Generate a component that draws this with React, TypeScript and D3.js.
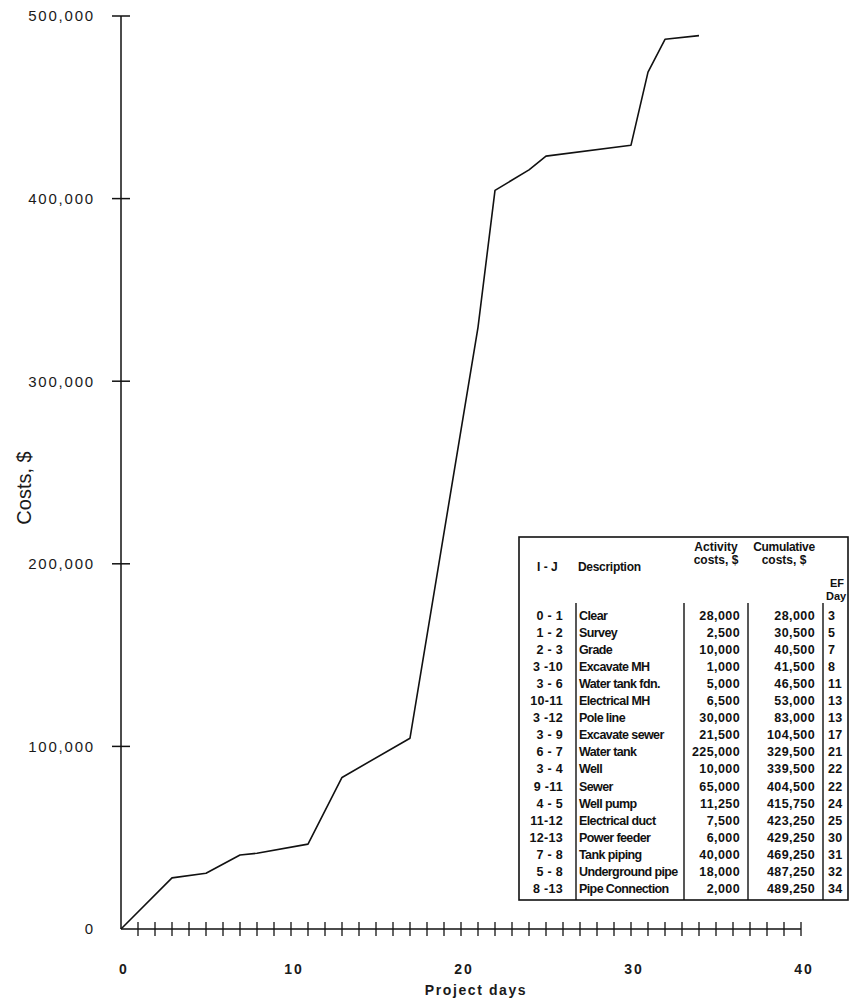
import React from "react";
import * as d3 from "d3";

const ijLabels = ["0 - 1","1 - 2","2 - 3","3 -10","3 - 6","10-11","3 -12","3 - 9","6 - 7","3 - 4","9 -11","4 - 5","11-12","12-13","7 - 8","5 - 8","8 -13"];
const descriptions = ["Clear","Survey","Grade","Excavate MH","Water tank fdn.","Electrical MH","Pole line","Excavate sewer","Water tank","Well","Sewer","Well pump","Electrical duct","Power feeder","Tank piping","Underground pipe","Pipe Connection"];
const activityCosts = [28000,2500,10000,1000,5000,6500,30000,21500,225000,10000,65000,11250,7500,6000,40000,18000,2000];
const cumulativeCosts = [28000,30500,40500,41500,46500,53000,83000,104500,329500,339500,404500,415750,423250,429250,469250,487250,489250];
const efDays = [3,5,7,8,11,13,13,17,21,22,22,24,25,30,31,32,34];
const yTicks = [0,100000,200000,300000,400000,500000];
const xLabelTicks = [0,10,20,30,40];

const fmt = d3.format(",");

// line points: last cumulative cost reached at each EF day, starting at origin
const linePoints: [number, number][] = [[0, 0]];
efDays.forEach((d, i) => {
  const last = linePoints[linePoints.length - 1];
  if (last[0] === d) last[1] = cumulativeCosts[i];
  else linePoints.push([d, cumulativeCosts[i]]);
});

export default function App() {
  const W = 851, H = 999;
  const x = d3.scaleLinear().domain([0, 40]).range([121, 801]);
  const y = d3.scaleLinear().domain([0, 500000]).range([929, 16]);
  const line = d3.line<[number, number]>().x(d => x(d[0])).y(d => y(d[1]));
  const ax0 = x(0), ay0 = y(0);

  // table geometry
  const tL = 519, tR = 848, tT = 537, tB = 900;
  const seps = [576, 684, 748, 823];
  const sepTop = 603;
  const rowY0 = 615, rowStep = 17.1;
  const tf = "'Liberation Sans', Arial, sans-serif";

  return (
    <svg width={W} height={H} style={{ position: "absolute", left: 0, top: 0, background: "#fff" }}>
      <rect x={0} y={0} width={W} height={H} fill="#fff" />
      {/* axes */}
      <line x1={ax0} y1={y(500000)} x2={ax0} y2={ay0} stroke="#111" strokeWidth={1.5} />
      <line x1={ax0} y1={ay0} x2={x(40)} y2={ay0} stroke="#111" strokeWidth={1.5} />
      {yTicks.map(t => (
        <g key={"yt" + t}>
          {t > 0 && <line x1={ax0 - 9} x2={ax0 + 9} y1={y(t)} y2={y(t)} stroke="#111" strokeWidth={1.5} />}
          <text x={ax0 - 26} y={y(t)} dy="0.36em" textAnchor="end" fontFamily={tf} fontSize={15} letterSpacing={1.8} fill="#1a1a1a">{fmt(t)}</text>
        </g>
      ))}
      {x.ticks(40).filter(t => t > 0).map(t => (
        <line key={"xt" + t} x1={x(t)} x2={x(t)} y1={ay0 - 7} y2={ay0 + 7} stroke="#111" strokeWidth={1.3} />
      ))}
      {xLabelTicks.map(t => (
        <text key={"xl" + t} x={x(t) + 3} y={969} dy="0.36em" textAnchor="middle" fontFamily={tf} fontWeight="bold" fontSize={14} letterSpacing={2} fill="#1a1a1a">{t}</text>
      ))}
      <text x={476} y={990} dy="0.36em" textAnchor="middle" fontFamily={tf} fontWeight="bold" fontSize={14} letterSpacing={1.6} fill="#1a1a1a">Project days</text>
      <text transform={`translate(24,488) rotate(-90)`} textAnchor="middle" dy="0.36em" fontFamily={tf} fontSize={20} fill="#1a1a1a">Costs, $</text>

      {/* cumulative cost curve */}
      <path d={line(linePoints) || ""} fill="none" stroke="#111" strokeWidth={1.6} strokeLinejoin="round" />

      {/* table */}
      <rect x={tL} y={tT} width={tR - tL} height={tB - tT} fill="#fff" stroke="#111" strokeWidth={1.6} />
      {seps.map(s => (
        <line key={"sep" + s} x1={s} x2={s} y1={sepTop} y2={tB} stroke="#111" strokeWidth={1.4} />
      ))}
      <g fontFamily={tf} fontWeight="bold" fontSize={12} fill="#111">
        <text x={537} y={567} dy="0.36em">I - J</text>
        <text x={578} y={567} dy="0.36em" letterSpacing={-0.3}>Description</text>
        <text x={716} y={547} dy="0.36em" textAnchor="middle">Activity</text>
        <text x={716} y={560} dy="0.36em" textAnchor="middle">costs, $</text>
        <text x={784} y={547} dy="0.36em" textAnchor="middle" letterSpacing={-0.3}>Cumulative</text>
        <text x={784} y={560} dy="0.36em" textAnchor="middle">costs, $</text>
        <text x={830} y={583} dy="0.36em" fontSize={11}>EF</text>
        <text x={826} y={596} dy="0.36em" fontSize={11}>Day</text>
      </g>
      <g fontFamily={tf} fontWeight="bold" fontSize={12.5} fill="#111">
        {ijLabels.map((lab, i) => {
          const ry = rowY0 + i * rowStep;
          return (
            <g key={"row" + i}>
              <text x={563} y={ry} dy="0.36em" textAnchor="end" letterSpacing={0.3}>{lab}</text>
              <text x={579} y={ry} dy="0.36em" letterSpacing={-0.6}>{descriptions[i]}</text>
              <text x={740} y={ry} dy="0.36em" textAnchor="end" letterSpacing={0.4}>{fmt(activityCosts[i])}</text>
              <text x={815} y={ry} dy="0.36em" textAnchor="end" letterSpacing={0.4}>{fmt(cumulativeCosts[i])}</text>
              <text x={828} y={ry} dy="0.36em" letterSpacing={0.4}>{efDays[i]}</text>
            </g>
          );
        })}
      </g>
    </svg>
  );
}
